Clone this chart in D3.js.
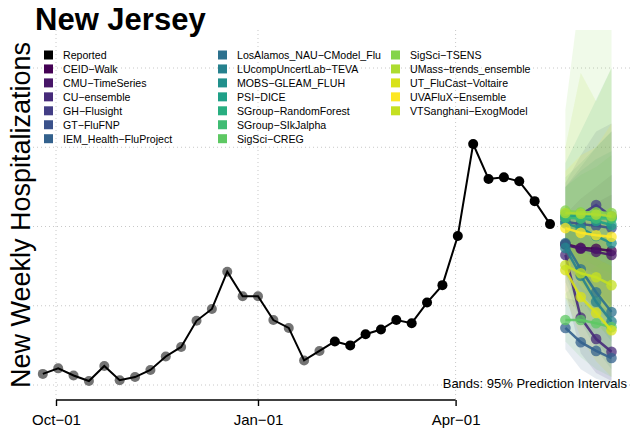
<!DOCTYPE html>
<html>
<head>
<meta charset="utf-8">
<script src="https://cdn.jsdelivr.net/npm/d3@7"></script>
<style>
  html, body { margin: 0; padding: 0; background: #fff; }
  svg { display: block; font-family: "Liberation Sans", Arial, Helvetica, sans-serif; }
</style>
</head>
<body>
<svg id="chart" width="632" height="431"></svg>
<script>
// ---- data ----
const reportedDates = ["2021-09-25","2021-10-02","2021-10-09","2021-10-16","2021-10-23","2021-10-30",
  "2021-11-06","2021-11-13","2021-11-20","2021-11-27","2021-12-04","2021-12-11","2021-12-18",
  "2021-12-25","2022-01-01","2022-01-08","2022-01-15","2022-01-22","2022-01-29","2022-02-05",
  "2022-02-12","2022-02-19","2022-02-26","2022-03-05","2022-03-12","2022-03-19","2022-03-26",
  "2022-04-02","2022-04-09","2022-04-16","2022-04-23","2022-04-30","2022-05-07","2022-05-14"];
const reportedValues = [14, 21, 12, 5, 24, 6, 10, 19, 36, 48, 81, 96, 143, 112, 112, 82, 72, 31, 43,
  55, 50, 64, 70, 82, 78, 104, 126, 188, 304, 260, 262, 257, 232, 203];
const greyUntil = "2022-01-29";   // older points drawn grey

const forecastDates = ["2022-05-21", "2022-05-28", "2022-06-04", "2022-06-11"];

const modelNames = ["CEID\u2212Walk", "CMU\u2212TimeSeries", "CU\u2212ensemble", "GH\u2212Flusight",
  "GT\u2212FluFNP", "IEM_Health\u2212FluProject", "LosAlamos_NAU\u2212CModel_Flu",
  "LUcompUncertLab\u2212TEVA", "MOBS\u2212GLEAM_FLUH", "PSI\u2212DICE", "SGroup\u2212RandomForest",
  "SGroup\u2212SIkJalpha", "SigSci\u2212CREG", "SigSci\u2212TSENS", "UMass\u2212trends_ensemble",
  "UT_FluCast\u2212Voltaire", "UVAFluX\u2212Ensemble", "VTSanghani\u2212ExogModel"];
const modelColors = ["#440154", "#481668", "#472B7A", "#433E85", "#3B528B", "#33618D", "#2C718E",
  "#26818E", "#21908C", "#1FA088", "#28AE80", "#3FBC73", "#5DC863", "#84D44B", "#ADDC30",
  "#D8E219", "#FDE725", "#C5E021"];

const fcPoint = [
  [178, 173, 172, 169], [177, 172, 168, 164], [164, 85, 58, 42], [211, 215, 227, 213],
  [206, 203, 201, 198], [72, 54, 43, 34], [179, 146, 117, 92], [173, 138, 105, 80],
  [204, 198, 188, 179], [212, 211, 207, 202], [215, 213, 213, 211], [211, 210, 210, 210],
  [82, 82, 78, 73], [220, 218, 218, 217], [217, 216, 215, 213], [145, 111, 91, 69],
  [198, 192, 189, 187], [151, 141, 136, 126]];
const fcLower = [
  [150, 130, 115, 100], [140, 115, 95, 80], [120, 40, 15, 5], [170, 150, 140, 120],
  [165, 140, 120, 100], [45, 20, 8, 2], [140, 90, 55, 30], [130, 80, 45, 20],
  [160, 130, 100, 80], [150, 110, 80, 55], [170, 150, 135, 120], [175, 160, 150, 140],
  [55, 35, 20, 10], [160, 120, 90, 60], [160, 130, 110, 90], [110, 60, 30, 10],
  [150, 125, 105, 90], [110, 90, 75, 60]];
const fcUpper = [
  [205, 215, 230, 240], [215, 235, 250, 265], [210, 180, 160, 150], [255, 290, 320, 330],
  [250, 275, 300, 320], [110, 105, 100, 95], [220, 205, 190, 175], [215, 200, 175, 160],
  [250, 270, 285, 295], [280, 320, 360, 400], [262, 280, 300, 320], [250, 265, 275, 290],
  [115, 135, 150, 160], [347, 500, 520, 540], [300, 394, 358, 400], [185, 170, 160, 150],
  [270, 290, 300, 330], [200, 210, 215, 225]];

const tickDates = ["2021-10-01", "2022-01-01", "2022-04-01"];
const tickLabels = ["Oct\u221201", "Jan\u221201", "Apr\u221201"];
const yGrid = [0, 100, 200, 300, 400];

// ---- layout ----
const parse = d3.timeParse("%Y-%m-%d");
const plot = { left: 33, right: 630, top: 30, bottom: 400 };
const svg = d3.select("#chart");

const x = d3.scaleTime().domain([parse(tickDates[0]), parse(tickDates[2])]).range([56, 455.6]);
const y = d3.scaleLinear().domain([0, 400]).range([385, 68]);

svg.append("defs").append("clipPath").attr("id", "plotclip").append("rect")
  .attr("x", plot.left).attr("y", plot.top)
  .attr("width", plot.right - plot.left).attr("height", plot.bottom - plot.top);

// grid
const grid = svg.append("g").attr("stroke", "#c8c8c8").attr("stroke-dasharray", "1 3").attr("stroke-width", 1);
grid.selectAll("line.h").data(yGrid).join("line").attr("class", "h")
  .attr("x1", plot.left).attr("x2", plot.right).attr("y1", (d) => y(d)).attr("y2", (d) => y(d));
grid.selectAll("line.v").data(tickDates).join("line").attr("class", "v")
  .attr("x1", (d) => x(parse(d))).attr("x2", (d) => x(parse(d))).attr("y1", plot.top).attr("y2", plot.bottom);

// x axis (line only between first and last tick, like base R)
const ax = svg.append("g").attr("transform", `translate(0,${plot.bottom})`)
  .call(d3.axisBottom(x).tickValues(tickDates.map(parse)).tickSize(6).tickSizeOuter(0)
    .tickFormat((d, i) => tickLabels[i]));
ax.select(".domain").remove();
ax.append("line").attr("x1", x(parse(tickDates[0]))).attr("x2", x(parse(tickDates[2])))
  .attr("stroke", "#000").attr("stroke-width", 1.4);
ax.selectAll(".tick line").attr("stroke", "#000").attr("stroke-width", 1.4);
ax.selectAll(".tick text").attr("fill", "#000").attr("dy", null).attr("y", 25)
  .style("font-size", "15px").style("font-family", "Liberation Sans, Arial, sans-serif");

// forecast bands
const fx = forecastDates.map(parse);
const bands = svg.append("g").attr("clip-path", "url(#plotclip)");
const area = d3.area().x((d) => x(d.t)).y0((d) => y(d.lo)).y1((d) => y(d.hi));
modelNames.forEach((m, k) => {
  const pts = fx.map((t, j) => ({ t, lo: fcLower[k][j], hi: fcUpper[k][j] }));
  bands.append("path").datum(pts).attr("d", area)
    .attr("fill", modelColors[k]).attr("fill-opacity", 0.12);
});

// reported series
const rep = reportedDates.map((d, i) => ({ t: parse(d), v: reportedValues[i], old: d <= greyUntil }));
svg.selectAll("circle.old").data(rep.filter((d) => d.old)).join("circle").attr("class", "old")
  .attr("cx", (d) => x(d.t)).attr("cy", (d) => y(d.v)).attr("r", 5).attr("fill", "#5a5a5a").attr("fill-opacity", 0.85);
svg.append("path").datum(rep).attr("fill", "none").attr("stroke", "#000").attr("stroke-width", 2)
  .attr("d", d3.line().x((d) => x(d.t)).y((d) => y(d.v)));
svg.selectAll("circle.new").data(rep.filter((d) => !d.old)).join("circle").attr("class", "new")
  .attr("cx", (d) => x(d.t)).attr("cy", (d) => y(d.v)).attr("r", 5).attr("fill", "#000");

// forecast lines + points
const fl = svg.append("g").attr("clip-path", "url(#plotclip)");
const line = d3.line().x((d) => x(d.t)).y((d) => y(d.v));
modelNames.forEach((m, k) => {
  const pts = fx.map((t, j) => ({ t, v: fcPoint[k][j] }));
  fl.append("path").datum(pts).attr("d", line).attr("fill", "none")
    .attr("stroke", modelColors[k]).attr("stroke-width", 2.5).attr("stroke-opacity", 0.9);
  fl.selectAll(null).data(pts).join("circle")
    .attr("cx", (d) => x(d.t)).attr("cy", (d) => y(d.v)).attr("r", 5.3)
    .attr("fill", modelColors[k]).attr("fill-opacity", 0.75);
});

// titles
svg.append("text").attr("x", 35).attr("y", 30).style("font-size", "31px").style("font-weight", "bold")
  .attr("fill", "#000").text("New Jersey");
svg.append("text").attr("transform", `translate(30,${(plot.top + plot.bottom) / 2}) rotate(-90)`)
  .attr("text-anchor", "middle").style("font-size", "27px").attr("fill", "#000")
  .text("New Weekly Hospitalizations");
svg.append("text").attr("x", 627).attr("y", 388).attr("text-anchor", "end")
  .style("font-size", "13px").attr("fill", "#000").text("Bands: 95% Prediction Intervals");

// legend, 7 rows per column
const legNames = ["Reported"].concat(modelNames);
const legColors = ["#000"].concat(modelColors);
const colX = [44, 218, 391];
const lg = svg.append("g");
legNames.forEach((n, i) => {
  const c = Math.floor(i / 7), r = i % 7;
  const cy = 55 + r * 13.95;
  lg.append("rect").attr("x", colX[c]).attr("y", cy - 4.5).attr("width", 9).attr("height", 9).attr("fill", legColors[i]);
  lg.append("text").attr("x", colX[c] + 19).attr("y", cy + 3.8).style("font-size", "10.6px")
    .attr("fill", "#000").text(n);
});
</script>
</body>
</html>
